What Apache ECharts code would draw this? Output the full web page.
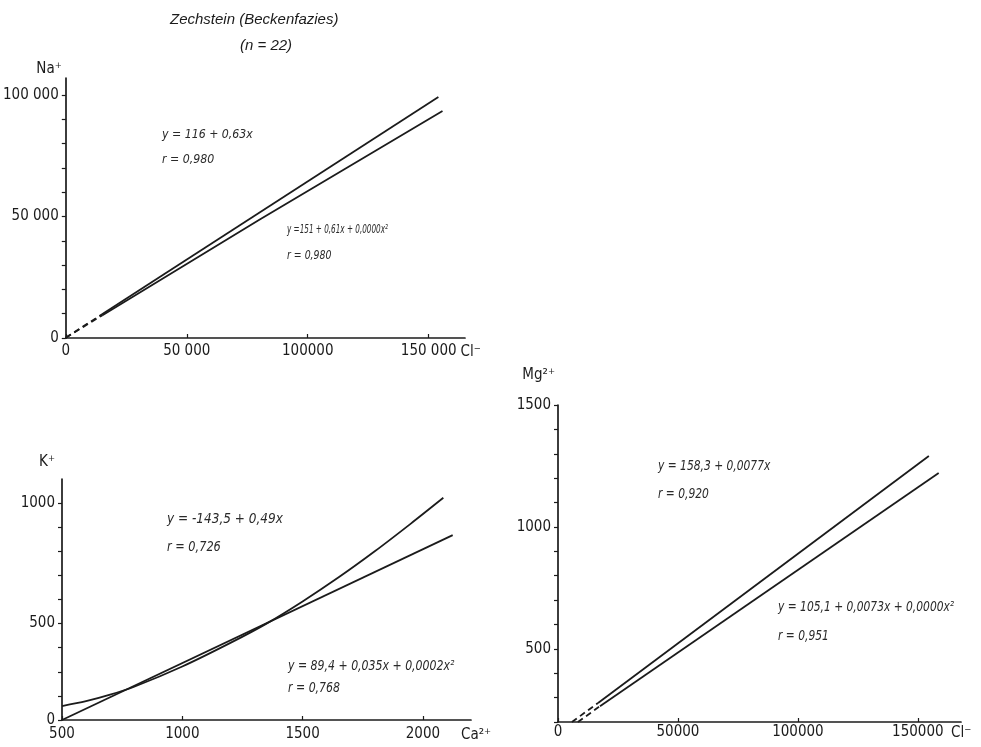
<!DOCTYPE html>
<html>
<head>
<meta charset="utf-8">
<title>Zechstein (Beckenfazies)</title>
<script src="https://cdn.jsdelivr.net/npm/echarts@6/dist/echarts.min.js"></script>
<style>
  html, body { margin: 0; padding: 0; background: #fff; }
  #chart { width: 981px; height: 747px; }
</style>
</head>
<body>
<div id="chart"></div>
<script>
// ---- Na+ vs Cl- ----
const naXTickValues = [0, 50000, 100000, 150000];
const naXTickLabels = ['0', '50 000', '100000', '150 000'];
const naYTickValues = [0, 10000, 20000, 30000, 40000, 50000, 60000, 70000, 80000, 90000, 100000];
const naYLabelValues = [0, 50000, 100000];
const naYLabelTexts = ['0', '50 000', '100 000'];
const naLinDashed = [[0, 100], [15000, 9800]];
const naLinSolid = [[15000, 9800], [154000, 99200]];
const naQuadDashed = [[0, 150], [15000, 9300]];
const naQuadSolid = [[15000, 9300], [80000, 48700], [155700, 93400]];

// ---- K+ vs Ca2+ ----
const kXTickValues = [500, 1000, 1500, 2000];
const kXTickLabels = ['500', '1000', '1500', '2000'];
const kYTickValues = [100, 200, 300, 400, 500, 600, 700, 800, 900, 1000];
const kYLabelValues = [100, 500, 1000];
const kYLabelTexts = ['0', '500', '1000'];
const kLin = [[500, 100], [2124, 867]];
const kQuad = [[500, 158], [600, 178], [700, 205], [800, 238], [1000, 322], [1200, 420],
               [1350, 500], [1500, 592], [1650, 692], [1800, 800], [1950, 915], [2085, 1022]];

// ---- Mg2+ vs Cl- ----
const mgXTickValues = [0, 50000, 100000, 150000];
const mgXTickLabels = ['0', '50000', '100000', '150000'];
const mgYTickValues = [200, 300, 400, 500, 600, 700, 800, 900, 1000, 1100, 1200, 1300, 1400, 1500];
const mgYLabelValues = [500, 1000, 1500];
const mgYLabelTexts = ['500', '1000', '1500'];
const mgLinDashed = [[5800, 200], [16700, 278]];
const mgLinSolid = [[16700, 278], [154600, 1291]];
const mgQuadDashed = [[8300, 200], [17500, 265]];
const mgQuadSolid = [[17500, 265], [158700, 1221]];

const INK = '#1b1b1b';
const NARROW = "'Liberation Sans Narrow', 'DejaVu Sans Condensed', sans-serif";
const labelFrom = (values, texts) => v => {
  const i = values.indexOf(v);
  return i < 0 ? '' : texts[i];
};

function xAxisDef(gridIndex, min, max, tickValues, labelTexts, name, labelMargin) {
  return {
    type: 'value', gridIndex, min, max,
    name, nameLocation: 'end', nameGap: -10,
    nameTextStyle: { color: INK, fontFamily: NARROW, fontSize: 15, verticalAlign: 'top', padding: [labelMargin + 1, 0, 0, 0] },
    axisLine: { show: true, onZero: false, lineStyle: { color: INK, width: 1.7 } },
    axisTick: { show: true, inside: true, length: 4, customValues: tickValues, lineStyle: { color: INK, width: 1.2 } },
    axisLabel: { color: INK, fontFamily: NARROW, fontSize: 15, margin: labelMargin,
                 customValues: tickValues, formatter: labelFrom(tickValues, labelTexts) },
    splitLine: { show: false }
  };
}

function yAxisDef(gridIndex, min, max, tickValues, labelValues, labelTexts, name, nameGap, namePadRight) {
  return {
    type: 'value', gridIndex, min, max,
    name, nameLocation: 'end', nameGap,
    nameTextStyle: { color: INK, fontFamily: NARROW, fontSize: 15, align: 'right', padding: [0, namePadRight, 0, 0] },
    axisLine: { show: true, onZero: false, lineStyle: { color: INK, width: 1.7 } },
    axisTick: { show: true, length: 4, customValues: tickValues, lineStyle: { color: INK, width: 1.2 } },
    axisLabel: { color: INK, fontFamily: NARROW, fontSize: 15, margin: 7,
                 customValues: labelValues, formatter: labelFrom(labelValues, labelTexts) },
    splitLine: { show: false }
  };
}

function lineSeries(axisIndex, data, dashed, smooth) {
  return {
    type: 'line', xAxisIndex: axisIndex, yAxisIndex: axisIndex, data,
    showSymbol: false, smooth: smooth || false, silent: true,
    lineStyle: { color: INK, width: 1.8, type: dashed ? [6, 4] : 'solid' }
  };
}

// Italic regression labels; squeeze narrows the glyphs horizontally
function note(x, y, text, size, squeeze) {
  return {
    type: 'text', x, y, scaleX: squeeze, silent: true,
    style: { text, fill: '#2a2a2a', font: 'italic ' + size + 'px ' + NARROW }
  };
}

const chart = echarts.init(document.getElementById('chart'), null, { renderer: 'canvas' });
chart.setOption({
  animation: false,
  backgroundColor: '#fff',
  grid: [
    { left: 62, top: 78, width: 403, height: 260 },
    { left: 62, top: 479, width: 409, height: 241 },
    { left: 558, top: 405, width: 403, height: 317 }
  ],
  xAxis: [
    xAxisDef(0, 0, 165000, naXTickValues, naXTickLabels, 'Cl\u207B', 6),
    xAxisDef(1, 500, 2200, kXTickValues, kXTickLabels, 'Ca\u00B2\u207A', 7),
    xAxisDef(2, 0, 168000, mgXTickValues, mgXTickLabels, 'Cl\u207B', 3)
  ],
  yAxis: [
    yAxisDef(0, 0, 107000, naYTickValues, naYLabelValues, naYLabelTexts, 'Na\u207A', 1, 4),
    yAxisDef(1, 100, 1100, kYTickValues, kYLabelValues, kYLabelTexts, 'K\u207A', 9, 7),
    yAxisDef(2, 200, 1500, mgYTickValues, mgYLabelValues, mgYLabelTexts, 'Mg\u00B2\u207A', 22, 3)
  ],
  series: [
    lineSeries(0, naLinDashed, true),
    lineSeries(0, naLinSolid, false),
    lineSeries(0, naQuadDashed, true),
    lineSeries(0, naQuadSolid, false),
    lineSeries(1, kLin, false),
    lineSeries(1, kQuad, false, 0.3),
    lineSeries(2, mgLinDashed, true),
    lineSeries(2, mgLinSolid, false),
    lineSeries(2, mgQuadDashed, true),
    lineSeries(2, mgQuadSolid, false)
  ],
  graphic: [
    { type: 'text', x: 170, y: 12, silent: true,
      style: { text: 'Zechstein (Beckenfazies)', fill: INK, font: 'italic 15px "Liberation Sans", Arial, sans-serif' } },
    { type: 'text', x: 240, y: 38, silent: true,
      style: { text: '(n = 22)', fill: INK, font: 'italic 15px "Liberation Sans", Arial, sans-serif' } },
    note(162, 128, 'y = 116 + 0,63x', 13, 0.94),
    note(162, 153, 'r = 0,980', 13, 0.94),
    note(287, 223, 'y =151 + 0,61x + 0,0000x\u00B2', 13, 0.62),
    note(287, 249, 'r = 0,980', 13, 0.8),
    note(167, 512, 'y = -143,5 + 0,49x', 14, 0.96),
    note(167, 540, 'r = 0,726', 14, 0.9),
    note(288, 659, 'y = 89,4 + 0,035x + 0,0002x\u00B2', 14, 0.87),
    note(288, 681, 'r = 0,768', 14, 0.87),
    note(658, 459, 'y = 158,3 + 0,0077x', 14, 0.85),
    note(658, 487, 'r = 0,920', 14, 0.85),
    note(778, 600, 'y = 105,1 + 0,0073x + 0,0000x\u00B2', 14, 0.85),
    note(778, 629, 'r = 0,951', 14, 0.85)
  ]
});
</script>
</body>
</html>
